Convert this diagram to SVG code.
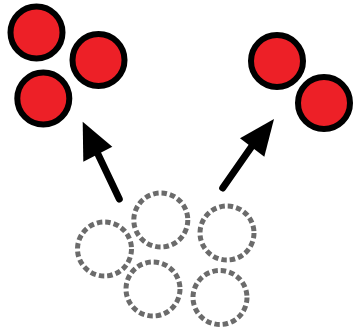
<svg xmlns="http://www.w3.org/2000/svg" width="353" height="330" viewBox="0 0 353 330">
<style>
.red{fill:#ed2027;stroke:#000;stroke-width:6}
.ghost{fill:none;stroke:#6b6b6b;stroke-width:5;stroke-dasharray:5.5 3}
.shaft{stroke:#000;stroke-width:7;stroke-linecap:round;fill:none}
.head{fill:#000}
</style>
<rect width="353" height="330" fill="#fff"/>
<g id="red1"><circle class="red" cx="36.5" cy="32.5" r="26"/></g>
<g id="red2"><circle class="red" cx="98.5" cy="60" r="26"/></g>
<g id="red3"><circle class="red" cx="43.3" cy="98.5" r="26"/></g>
<g id="red4"><circle class="red" cx="277" cy="61" r="26"/></g>
<g id="red5"><circle class="red" cx="324" cy="103" r="26"/></g>
<g id="ghost1"><circle class="ghost" cx="104.5" cy="249" r="27"/></g>
<g id="ghost2"><circle class="ghost" cx="160.8" cy="220" r="27"/></g>
<g id="ghost3"><circle class="ghost" cx="227" cy="233" r="27"/></g>
<g id="ghost4"><circle class="ghost" cx="153" cy="289" r="27"/></g>
<g id="ghost5"><circle class="ghost" cx="220" cy="297.5" r="27"/></g>
<g id="connectors">
<line class="shaft" x1="119.3" y1="199" x2="96" y2="150"/>
<polygon class="head" points="82.7,121.7 112.3,146.7 83.3,161.7"/>
<line class="shaft" x1="222.7" y1="188" x2="252" y2="146"/>
<polygon class="head" points="274,119 264.3,156.7 240,138.3"/>
</g>
</svg>
